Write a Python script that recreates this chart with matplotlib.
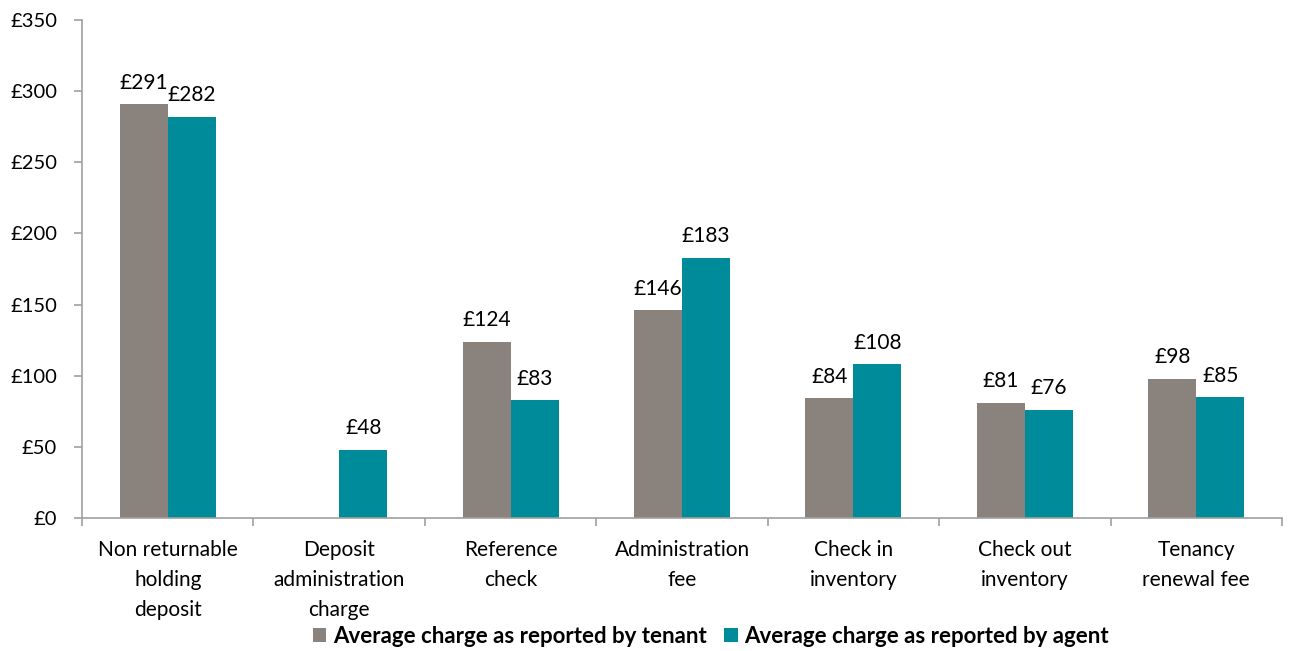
import matplotlib
matplotlib.use("Agg")
import matplotlib.pyplot as plt
import numpy as np

categories = ["Non returnable\nholding\ndeposit", "Deposit\nadministration\ncharge",
              "Reference\ncheck", "Administration\nfee", "Check in\ninventory",
              "Check out\ninventory", "Tenancy\nrenewal fee"]
tenant = [291, None, 124, 146, 84, 81, 98]
agent = [282, 48, 83, 183, 108, 76, 85]
series_names = ["Average charge as reported by tenant", "Average charge as reported by agent"]
yticks = [0, 50, 100, 150, 200, 250, 300, 350]

plt.rcParams['font.family'] = ['Lato', 'DejaVu Sans']

fig = plt.figure(figsize=(12.9, 6.51), dpi=100)
ax = fig.add_axes([0.0636, 0.2043, 0.9302, 0.765])

x = np.arange(len(categories))
w = 0.28
tc = "#8A827C"
ac = "#008B9A"
tvals = [v if v is not None else 0 for v in tenant]
b1 = ax.bar(x - w/2, tvals, w, color=tc, label=series_names[0])
b2 = ax.bar(x + w/2, agent, w, color=ac, label=series_names[1])
for xi, v in zip(x, tenant):
    if v is not None:
        ax.text(xi - w/2, v + 8, f"£{v}", ha="center", va="bottom", fontsize=15)
for xi, v in zip(x, agent):
    ax.text(xi + w/2, v + 8, f"£{v}", ha="center", va="bottom", fontsize=15)

ax.set_xlim(-0.5, len(categories) - 0.5)
ax.set_ylim(0, 350)
ax.set_yticks(yticks)
ax.set_yticklabels([f"£{t}" for t in yticks], fontsize=14.5)
ax.set_xticks(x)
ax.set_xticklabels(categories, fontsize=15, linespacing=1.62)
ax.tick_params(axis="x", length=0, pad=16)
ax.set_xticks(np.arange(-0.5, len(categories)), minor=True)
ax.tick_params(axis="x", which="minor", length=6, color="#A0A0A0", width=1.2)
ax.tick_params(axis="y", length=6, color="#A0A0A0", width=1.2, pad=12)
for s in ["top", "right"]:
    ax.spines[s].set_visible(False)
for s in ["left", "bottom"]:
    ax.spines[s].set_color("#A0A0A0")
    ax.spines[s].set_linewidth(1.2)

leg = fig.legend(handles=[b1, b2], loc="center", bbox_to_anchor=(0.551, 0.023), ncol=2,
                 frameon=False, prop={"weight": "bold", "size": 16},
                 handlelength=0.6, handleheight=0.6, handletextpad=0.3, columnspacing=0.8)
fig.savefig("out.png", dpi=100)
